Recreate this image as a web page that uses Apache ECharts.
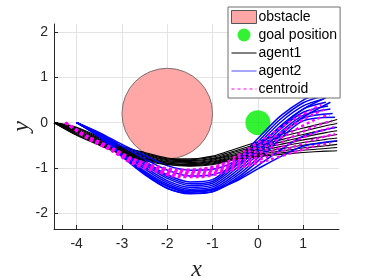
<!DOCTYPE html>
<html><head><meta charset="utf-8">
<script src="https://cdn.jsdelivr.net/npm/echarts@6/dist/echarts.min.js"></script>
<style>html,body{margin:0;padding:0;background:#fff}#c{width:374px;height:280px}</style>
</head><body><div id="c"></div>
<script>
// ---- data ----
const xRange = [-4.5, 1.79];
const yRange = [-2.35, 2.18];
const obstacleCenter = [-2, 0.2];
const obstacleRadius = 1;
const goalPosition = [0, 0];
const legendNames = ['obstacle', 'goal position', 'agent1', 'agent2', 'centroid'];

// agent1 trajectories (black)
const agent1_r1 = [[-4.5,0],[-4,-0.1],[-3.5,-0.32],[-3,-0.52],[-2.5,-0.66],[-2,-0.78],[-1.5,-0.8],[-1,-0.74],[-0.5,-0.58],[0,-0.42],[0.5,-0.26],[1,-0.12],[1.5,0.0],[1.75,0.07]];
const agent1_r2 = [[-4.5,0],[-4,-0.12],[-3.5,-0.34],[-3,-0.54],[-2.5,-0.68],[-2,-0.8],[-1.5,-0.82],[-1,-0.76],[-0.5,-0.62],[0,-0.47],[0.5,-0.32],[1,-0.19],[1.5,-0.07],[1.75,-0.02]];
const agent1_r3 = [[-4.5,0],[-4,-0.14],[-3.5,-0.36],[-3,-0.56],[-2.5,-0.7],[-2,-0.82],[-1.5,-0.84],[-1,-0.79],[-0.5,-0.65],[0,-0.51],[0.5,-0.38],[1,-0.26],[1.5,-0.15],[1.75,-0.1]];
const agent1_r4 = [[-4.5,0],[-4,-0.16],[-3.5,-0.38],[-3,-0.58],[-2.5,-0.72],[-2,-0.84],[-1.5,-0.86],[-1,-0.81],[-0.5,-0.68],[0,-0.55],[0.5,-0.43],[1,-0.32],[1.5,-0.22],[1.75,-0.18]];
const agent1_r5 = [[-4.5,0],[-4,-0.18],[-3.5,-0.4],[-3,-0.6],[-2.5,-0.74],[-2,-0.86],[-1.5,-0.88],[-1,-0.83],[-0.5,-0.71],[0,-0.59],[0.5,-0.48],[1,-0.38],[1.5,-0.3],[1.75,-0.26]];
const agent1_r6 = [[-4.5,0],[-4,-0.2],[-3.5,-0.42],[-3,-0.62],[-2.5,-0.76],[-2,-0.87],[-1.5,-0.9],[-1,-0.85],[-0.5,-0.73],[0,-0.63],[0.5,-0.53],[1,-0.44],[1.5,-0.37],[1.75,-0.34]];
const agent1_r7 = [[-4.5,0],[-4,-0.22],[-3.5,-0.44],[-3,-0.64],[-2.5,-0.78],[-2,-0.89],[-1.5,-0.92],[-1,-0.87],[-0.5,-0.76],[0,-0.67],[0.5,-0.58],[1,-0.5],[1.5,-0.44],[1.75,-0.41]];
const agent1_r8 = [[-4.5,0],[-4,-0.24],[-3.5,-0.46],[-3,-0.66],[-2.5,-0.8],[-2,-0.9],[-1.5,-0.93],[-1,-0.89],[-0.5,-0.78],[0,-0.7],[0.5,-0.63],[1,-0.56],[1.5,-0.51],[1.75,-0.48]];
const agent1_r9 = [[-4.5,0],[-4,-0.26],[-3.5,-0.48],[-3,-0.68],[-2.5,-0.82],[-2,-0.92],[-1.5,-0.95],[-1,-0.91],[-0.5,-0.8],[0,-0.73],[0.5,-0.67],[1,-0.61],[1.5,-0.57],[1.75,-0.55]];
const agent1_r10 = [[-4.5,0],[-4,-0.28],[-3.5,-0.5],[-3,-0.7],[-2.5,-0.84],[-2,-0.93],[-1.5,-0.96],[-1,-0.93],[-0.5,-0.82],[0,-0.75],[0.5,-0.7],[1,-0.66],[1.5,-0.63],[1.75,-0.62]];

// agent2 trajectories (blue)
const agent2_r1 = [[-4,0],[-3.5,-0.24],[-3,-0.55],[-2.5,-0.85],[-2,-1.15],[-1.5,-1.31],[-1,-1.26],[-0.5,-0.85],[0,-0.35],[0.5,0.15],[1,0.5],[1.3,0.62]];
const agent2_r2 = [[-4,0],[-3.5,-0.25],[-3,-0.58],[-2.5,-0.89],[-2,-1.19],[-1.5,-1.35],[-1,-1.3],[-0.5,-0.91],[0,-0.42],[0.5,0.08],[1,0.44],[1.4,0.58]];
const agent2_r3 = [[-4,0],[-3.5,-0.26],[-3,-0.61],[-2.5,-0.93],[-2,-1.23],[-1.5,-1.39],[-1,-1.34],[-0.5,-0.97],[0,-0.49],[0.5,0.01],[1,0.37],[1.45,0.52]];
const agent2_r4 = [[-4,0],[-3.5,-0.27],[-3,-0.64],[-2.5,-0.98],[-2,-1.28],[-1.5,-1.43],[-1,-1.38],[-0.5,-1.03],[0,-0.56],[0.5,-0.07],[1,0.3],[1.5,0.45]];
const agent2_r5 = [[-4,0],[-3.5,-0.28],[-3,-0.67],[-2.5,-1.02],[-2,-1.32],[-1.5,-1.47],[-1,-1.42],[-0.5,-1.09],[0,-0.63],[0.5,-0.14],[1,0.23],[1.55,0.37]];
const agent2_r6 = [[-4,0],[-3.5,-0.29],[-3,-0.7],[-2.5,-1.07],[-2,-1.36],[-1.5,-1.5],[-1,-1.46],[-0.5,-1.15],[0,-0.7],[0.5,-0.21],[1,0.16],[1.6,0.3]];
const agent2_r7 = [[-4,0],[-3.5,-0.3],[-3,-0.72],[-2.5,-1.11],[-2,-1.4],[-1.5,-1.53],[-1,-1.49],[-0.5,-1.2],[0,-0.78],[0.5,-0.28],[1,0.1],[1.65,0.2]];
const agent2_r8 = [[-4,0],[-3.5,-0.32],[-3,-0.75],[-2.5,-1.15],[-2,-1.45],[-1.5,-1.56],[-1,-1.52],[-0.5,-1.25],[0,-0.85],[0.5,-0.35],[1,0.04],[1.7,0.12]];
const agent2_r9 = [[-4,0],[-3.5,-0.22],[-3,-0.48],[-2.5,-0.72],[-2,-0.95],[-1.5,-1.05],[-1,-1.03],[-0.5,-0.85],[0,-0.5],[0.5,-0.1],[1,0.3],[1.5,0.55]];
const agent2_r10 = [[-4,0],[-3.5,-0.23],[-3,-0.52],[-2.5,-0.8],[-2,-1.05],[-1.5,-1.18],[-1,-1.15],[-0.5,-0.95],[0,-0.62],[0.5,-0.25],[1,0.12],[1.6,0.45]];
const agent2_r11 = [[-4,0],[-3.5,-0.3],[-3,-0.7],[-2.5,-1.1],[-2,-1.4],[-1.5,-1.54],[-1,-1.48],[-0.5,-1.3],[0,-1.02],[0.5,-0.75],[1,-0.52],[1.75,-0.4]];
const agent2_r12 = [[-4,0],[-3.5,-0.31],[-3,-0.72],[-2.5,-1.12],[-2,-1.45],[-1.5,-1.57],[-1,-1.53],[-0.5,-1.28],[0,-0.95],[0.5,-0.6],[1,-0.3],[1.72,-0.1]];

// centroid trajectories (magenta dashed)
const centroid_r1 = [[-4.25,0],[-3.75,-0.3],[-3.25,-0.54],[-2.75,-0.8],[-2.25,-0.96],[-1.75,-1.04],[-1.25,-1.02],[-0.75,-0.9],[-0.25,-0.6],[0.25,-0.28],[0.75,0.05],[1.25,0.32],[1.4,0.4]];
const centroid_r2 = [[-4.25,0],[-3.75,-0.31],[-3.25,-0.55],[-2.75,-0.82],[-2.25,-0.98],[-1.75,-1.07],[-1.25,-1.05],[-0.75,-0.93],[-0.25,-0.67],[0.25,-0.38],[0.75,-0.07],[1.25,0.2],[1.5,0.3]];
const centroid_r3 = [[-4.25,0],[-3.75,-0.32],[-3.25,-0.56],[-2.75,-0.84],[-2.25,-1.0],[-1.75,-1.1],[-1.25,-1.08],[-0.75,-0.97],[-0.25,-0.74],[0.25,-0.48],[0.75,-0.2],[1.25,0.06],[1.58,0.18]];
const centroid_r4 = [[-4.25,0],[-3.75,-0.33],[-3.25,-0.57],[-2.75,-0.86],[-2.25,-1.02],[-1.75,-1.12],[-1.25,-1.11],[-0.75,-1.0],[-0.25,-0.8],[0.25,-0.57],[0.75,-0.32],[1.25,-0.08],[1.64,0.04]];
const centroid_r5 = [[-4.25,0],[-3.75,-0.34],[-3.25,-0.58],[-2.75,-0.88],[-2.25,-1.04],[-1.75,-1.15],[-1.25,-1.14],[-0.75,-1.03],[-0.25,-0.86],[0.25,-0.66],[0.75,-0.44],[1.25,-0.22],[1.68,-0.1]];
const centroid_r6 = [[-4.25,0],[-3.75,-0.35],[-3.25,-0.6],[-2.75,-0.9],[-2.25,-1.06],[-1.75,-1.17],[-1.25,-1.17],[-0.75,-1.06],[-0.25,-0.91],[0.25,-0.74],[0.75,-0.55],[1.25,-0.37],[1.7,-0.25]];
const centroid_r7 = [[-4.25,0],[-3.75,-0.36],[-3.25,-0.61],[-2.75,-0.92],[-2.25,-1.08],[-1.75,-1.2],[-1.25,-1.2],[-0.75,-1.1],[-0.25,-0.96],[0.25,-0.82],[0.75,-0.67],[1.25,-0.52],[1.6,-0.45]];

const agent1Runs = [agent1_r1,agent1_r2,agent1_r3,agent1_r4,agent1_r5,agent1_r6,agent1_r7,agent1_r8,agent1_r9,agent1_r10];
const agent2Runs = [agent2_r1,agent2_r2,agent2_r3,agent2_r4,agent2_r5,agent2_r6,agent2_r7,agent2_r8,agent2_r9,agent2_r10,agent2_r11,agent2_r12];
const centroidRuns = [centroid_r1,centroid_r2,centroid_r3,centroid_r4,centroid_r5,centroid_r6,centroid_r7];

// ---- styles ----
const OBST_FILL = '#ffa6a6';
const GOAL_COLOR = '#00ee00';
const AXIS_COLOR = '#262626';
const GRID_COLOR = '#e3e3e3';
const FONT = 'Liberation Sans';

const series = [];
series.push({
  type: 'custom', name: legendNames[0], coordinateSystem: 'cartesian2d',
  data: [[obstacleCenter[0], obstacleCenter[1], obstacleRadius]],
  encode: {x: 0, y: 1},
  itemStyle: {color: OBST_FILL},
  silent: true, z: 1,
  renderItem: function (params, api) {
    const c = api.coord([api.value(0), api.value(1)]);
    const s = api.size([api.value(2), api.value(2)]);
    return {type: 'circle', shape: {cx: c[0], cy: c[1], r: s[0]},
      style: {fill: OBST_FILL, stroke: '#5a5a5a', lineWidth: 0.8}};
  }
});
series.push({
  type: 'scatter', name: legendNames[1], data: [goalPosition],
  symbolSize: 25, itemStyle: {color: GOAL_COLOR}, silent: true, z: 2
});
const nMax = Math.max(agent1Runs.length, agent2Runs.length, centroidRuns.length);
for (let i = 0; i < nMax; i++) {
  if (agent1Runs[i]) series.push({type: 'line', name: 'agent1', data: agent1Runs[i], symbol: 'none', smooth: 0.3,
    itemStyle: {color: '#000'}, lineStyle: {color: '#000', width: 1.1}, z: 3, silent: true});
  if (agent2Runs[i]) series.push({type: 'line', name: 'agent2', data: agent2Runs[i], symbol: 'none', smooth: 0.3,
    itemStyle: {color: '#0000ff'}, lineStyle: {color: '#0000ff', width: 1.5}, z: 3, silent: true});
  if (centroidRuns[i]) series.push({type: 'line', name: 'centroid', data: centroidRuns[i], symbol: 'none', smooth: 0.3,
    itemStyle: {color: '#ff00ff'}, lineStyle: {color: '#ff00ff', width: 2.4, type: [3, 3]}, z: 4, silent: true});
}

const chart = echarts.init(document.getElementById('c'), null, {renderer: 'canvas'});
chart.setOption({
  animation: false,
  backgroundColor: '#fff',
  grid: {left: 54, right: 35, top: 24, bottom: 51, containLabel: false, outerBoundsMode: 'none'},
  xAxis: {
    type: 'value', min: xRange[0], max: xRange[1], minInterval: 1, maxInterval: 1,
    name: 'x', nameLocation: 'middle', nameGap: 29,
    nameTextStyle: {fontFamily: 'Liberation Serif', fontStyle: 'italic', fontSize: 24, color: AXIS_COLOR},
    axisLine: {show: true, onZero: false, lineStyle: {color: AXIS_COLOR, width: 1}},
    axisTick: {show: true, inside: true, length: 4, lineStyle: {color: AXIS_COLOR}},
    axisLabel: {showMinLabel: false, showMaxLabel: false, margin: 8, color: AXIS_COLOR, fontFamily: FONT, fontSize: 14},
    splitLine: {show: true, showMinLine: false, showMaxLine: false, lineStyle: {color: GRID_COLOR, width: 1}}
  },
  yAxis: {
    type: 'value', min: yRange[0], max: yRange[1], minInterval: 1, maxInterval: 1,
    name: 'y', nameLocation: 'middle', nameGap: 20, nameRotate: 90, nameMoveOverlap: false,
    nameTextStyle: {fontFamily: 'Liberation Serif', fontStyle: 'italic', fontSize: 24, color: AXIS_COLOR},
    axisLine: {show: true, onZero: false, lineStyle: {color: AXIS_COLOR, width: 1}},
    axisTick: {show: true, inside: true, length: 4, lineStyle: {color: AXIS_COLOR}},
    axisLabel: {showMinLabel: false, showMaxLabel: false, margin: 6, color: AXIS_COLOR, fontFamily: FONT, fontSize: 14},
    splitLine: {show: true, showMinLine: false, showMaxLine: false, lineStyle: {color: GRID_COLOR, width: 1}}
  },
  legend: {
    orient: 'vertical', left: 228, top: 7, padding: [3, 3, 2, 3],
    itemWidth: 25, itemHeight: 13, itemGap: 4,
    backgroundColor: '#fff', borderColor: '#6e6e6e', borderWidth: 1,
    textStyle: {fontFamily: FONT, fontSize: 14, color: '#000', padding: [0, 0, 0, -3]},
    selectedMode: false,
    data: [
      {name: legendNames[0], icon: 'rect', itemStyle: {color: OBST_FILL, borderColor: '#555', borderWidth: 1}},
      {name: legendNames[1], icon: 'circle', itemStyle: {color: GOAL_COLOR}},
      {name: legendNames[2], itemStyle: {opacity: 0}, lineStyle: {width: 1}},
      {name: legendNames[3], itemStyle: {opacity: 0}, lineStyle: {width: 1, color: '#4d4dff'}},
      {name: legendNames[4], itemStyle: {opacity: 0}, lineStyle: {width: 1, type: [3, 3]}}
    ]
  },
  series: series
});
</script>
</body></html>
